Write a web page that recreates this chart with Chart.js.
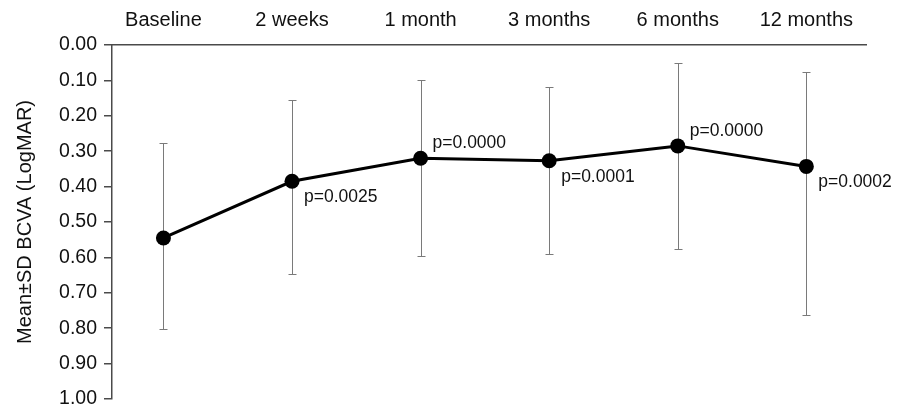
<!DOCTYPE html>
<html>
<head>
<meta charset="utf-8">
<script src="https://cdn.jsdelivr.net/npm/chart.js@4/dist/chart.umd.min.js"></script>
<style>
  html, body { margin: 0; padding: 0; background: #fff; }
  canvas { display: block; }
</style>
</head>
<body>
<canvas id="c" width="904" height="412"></canvas>
<script>
// Visit labels
const visits = ['Baseline', '2 weeks', '1 month', '3 months', '6 months', '12 months'];
// Mean BCVA (LogMAR)
const meanBCVA = [0.545, 0.385, 0.320, 0.327, 0.285, 0.343];
// Mean - SD and Mean + SD ends of each bar
const sdLower = [0.277, 0.156, 0.100, 0.118, 0.052, 0.077];
const sdUpper = [0.802, 0.646, 0.595, 0.591, 0.576, 0.762];
// p-values versus baseline
const pValues = ['', 'p=0.0025', 'p=0.0000', 'p=0.0001', 'p=0.0000', 'p=0.0002'];
// y tick values
const yTicks = [0, 0.1, 0.2, 0.3, 0.4, 0.5, 0.6, 0.7, 0.8, 0.9, 1.0];

const FONT = "'Liberation Sans', Arial, sans-serif";
// where each p label sits relative to its point
const pPlacement = ['', 'below', 'above', 'below', 'above', 'below'];

const errorBars = {
  id: 'errorBars',
  beforeDatasetsDraw(chart) {
    const { ctx, scales: { x, y } } = chart;
    ctx.save();
    ctx.strokeStyle = '#7a7a7a';
    ctx.lineWidth = 1;
    const cap = 4;
    meanBCVA.forEach((m, i) => {
      const px = Math.round(x.getPixelForValue(i)) + 0.5;
      const yTop = Math.round(y.getPixelForValue(sdLower[i])) + 0.5;
      const yBot = Math.round(y.getPixelForValue(sdUpper[i])) + 0.5;
      ctx.beginPath();
      ctx.moveTo(px, yTop); ctx.lineTo(px, yBot);
      ctx.moveTo(px - cap, yTop); ctx.lineTo(px + cap, yTop);
      ctx.moveTo(px - cap, yBot); ctx.lineTo(px + cap, yBot);
      ctx.stroke();
    });
    ctx.restore();
  }
};

const pLabels = {
  id: 'pLabels',
  afterDatasetsDraw(chart) {
    const { ctx, scales: { x, y } } = chart;
    ctx.save();
    ctx.font = '17.5px ' + FONT;
    ctx.fillStyle = '#111';
    ctx.textAlign = 'left';
    ctx.textBaseline = 'middle';
    pValues.forEach((t, i) => {
      if (!t) return;
      const px = x.getPixelForValue(i);
      const py = y.getPixelForValue(meanBCVA[i]);
      const dy = pPlacement[i] === 'above' ? -15 : 16;
      ctx.fillText(t, px + 12, py + dy);
    });
    ctx.restore();
  }
};

new Chart(document.getElementById('c'), {
  type: 'line',
  data: {
    datasets: [{
      data: meanBCVA.map((v, i) => ({ x: i, y: v })),
      borderColor: '#000',
      backgroundColor: '#000',
      borderWidth: 3,
      pointRadius: 7.5,
      pointBorderWidth: 0,
      pointBackgroundColor: '#000',
      tension: 0,
      fill: false
    }]
  },
  options: {
    responsive: false,
    animation: false,
    layout: { padding: { left: 0, right: 38, top: 0, bottom: 13 } },
    plugins: { legend: { display: false }, tooltip: { enabled: false } },
    scales: {
      x: {
        type: 'linear',
        position: 'top',
        min: -0.40,
        max: 5.464,
        grid: { display: false },
        border: { display: true, color: '#4a4a4a', width: 1.5 },
        ticks: {
          color: '#111',
          font: { family: FONT, size: 20 },
          padding: 5,
          maxRotation: 0,
          autoSkip: false,
          callback: v => visits[v]
        },
        afterBuildTicks: s => { s.ticks = visits.map((_, i) => ({ value: i })); },
        afterFit: s => { s.height = 45; }
      },
      y: {
        reverse: true,
        min: 0,
        max: 1,
        afterBuildTicks: s => { s.ticks = yTicks.map(v => ({ value: v })); },
        ticks: {
          color: '#111',
          font: { family: FONT, size: 19.5 },
          padding: 7,
          callback: v => Number(v).toFixed(2)
        },
        grid: { display: true, drawOnChartArea: false, tickLength: 8, color: '#4a4a4a', lineWidth: 1.5 },
        border: { display: true, color: '#4a4a4a', width: 1.5 },
        title: {
          display: true,
          text: 'Mean±SD BCVA (LogMAR)',
          color: '#111',
          font: { family: FONT, size: 20 },
          padding: { top: 13, bottom: 0 }
        },
        afterFit: s => { s.width = 112; s.paddingTop = 0; s.paddingBottom = 0; }
      }
    }
  },
  plugins: [errorBars, pLabels]
});
</script>
</body>
</html>
